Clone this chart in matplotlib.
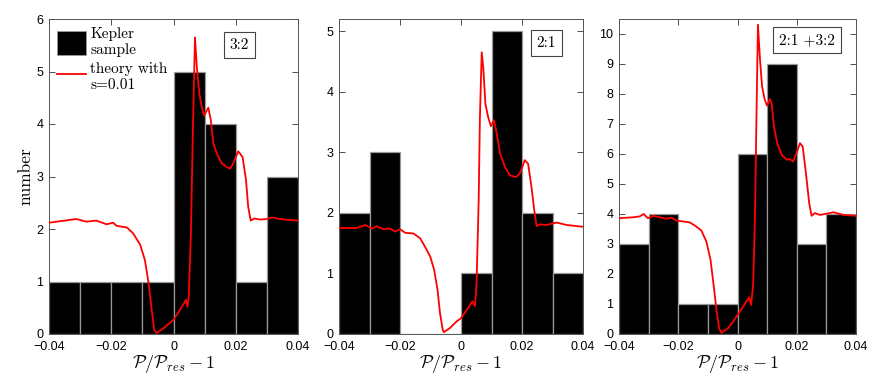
import numpy as np
import matplotlib
matplotlib.use("Agg")
import matplotlib.pyplot as plt
from matplotlib.patches import Patch
from matplotlib.lines import Line2D

plt.rcParams['mathtext.fontset'] = 'cm'
plt.rcParams['font.family'] = ['Liberation Sans', 'DejaVu Sans']
plt.rcParams['axes.unicode_minus'] = True

bin_left = [-0.04, -0.03, -0.02, -0.01, 0.0, 0.01, 0.02, 0.03]
counts_32 = [1, 1, 1, 1, 5, 4, 1, 3]
counts_21 = [2, 3, 0, 0, 1, 5, 2, 1]
counts_all = [3, 4, 1, 1, 6, 9, 3, 4]

theory_x_32 = [-0.04, -0.0312, -0.028, -0.0248, -0.0215, -0.0194, -0.0183, -0.015, -0.013, -0.0107,
               -0.0092, -0.008, -0.007, -0.0062, -0.0054, -0.0032, 0.0, 0.0021, 0.004, 0.0045,
               0.0049, 0.0056, 0.0062, 0.0069, 0.0075, 0.0083, 0.0091, 0.0099, 0.0107, 0.0112,
               0.012, 0.0128, 0.0139, 0.0155, 0.0171, 0.0182, 0.0192, 0.0208, 0.0222, 0.0233,
               0.024, 0.0248, 0.0259, 0.0278, 0.03, 0.0316, 0.0342, 0.0375, 0.04]
theory_y_32 = [2.12, 2.19, 2.14, 2.16, 2.09, 2.12, 2.06, 2.03, 1.92, 1.70,
               1.41, 0.97, 0.46, 0.08, 0.02, 0.11, 0.27, 0.46, 0.65, 0.52,
               0.72, 1.92, 3.82, 5.65, 5.08, 4.58, 4.32, 4.16, 4.26, 4.31,
               4.07, 3.63, 3.44, 3.25, 3.18, 3.15, 3.25, 3.48, 3.37, 2.93,
               2.42, 2.16, 2.20, 2.18, 2.19, 2.22, 2.19, 2.17, 2.16]

theory_x_21 = [-0.04, -0.0341, -0.0314, -0.0292, -0.0276, -0.0254, -0.0232, -0.0216, -0.02, -0.0183,
               -0.0156, -0.0134, -0.0118, -0.0101, -0.0088, -0.0077, -0.0069, -0.006, -0.0056, -0.0036,
               -0.0014, 0.0, 0.0019, 0.0038, 0.0046, 0.0051, 0.0058, 0.0062, 0.0068, 0.0073,
               0.008, 0.0089, 0.0098, 0.0108, 0.0117, 0.0128, 0.0144, 0.016, 0.018, 0.0193,
               0.0209, 0.022, 0.0231, 0.024, 0.0248, 0.0258, 0.028, 0.0313, 0.0346, 0.04]
theory_y_21 = [1.75, 1.75, 1.80, 1.74, 1.78, 1.73, 1.74, 1.69, 1.73, 1.67,
               1.66, 1.58, 1.44, 1.28, 1.06, 0.73, 0.35, 0.07, 0.03, 0.10,
               0.21, 0.26, 0.40, 0.54, 0.46, 0.84, 2.21, 3.58, 4.65, 4.40,
               3.80, 3.58, 3.43, 3.53, 3.31, 2.98, 2.76, 2.62, 2.59, 2.65,
               2.87, 2.81, 2.43, 2.05, 1.78, 1.81, 1.80, 1.84, 1.80, 1.77]

theory_x_all = [-0.04, -0.0353, -0.033, -0.0317, -0.0302, -0.0285, -0.0262, -0.024, -0.0223, -0.0206,
                -0.0183, -0.0161, -0.0139, -0.0122, -0.0105, -0.0091, -0.008, -0.0071, -0.0062, -0.0054,
                -0.0032, -0.0015, 0.0, 0.0019, 0.0039, 0.0046, 0.0053, 0.0059, 0.0064, 0.0069,
                0.0076, 0.0083, 0.0092, 0.01, 0.0109, 0.0115, 0.0123, 0.0134, 0.0149, 0.0166,
                0.0177, 0.0188, 0.0199, 0.0211, 0.022, 0.0231, 0.0242, 0.025, 0.0261, 0.0278,
                0.0312, 0.0323, 0.0357, 0.04]
theory_y_all = [3.86, 3.89, 3.92, 4.00, 3.86, 3.94, 3.89, 3.84, 3.88, 3.78,
                3.75, 3.72, 3.58, 3.45, 3.08, 2.47, 1.58, 0.80, 0.19, 0.04,
                0.19, 0.41, 0.63, 0.91, 1.22, 0.97, 1.69, 3.92, 7.25, 10.31,
                9.14, 8.25, 7.81, 7.61, 7.83, 7.70, 6.92, 6.36, 5.97, 5.81,
                5.83, 5.75, 6.03, 6.36, 6.25, 5.36, 4.36, 3.94, 4.03, 3.97,
                4.03, 4.06, 3.97, 3.94]

labels = ["3:2", "2:1", "2:1 +3:2"]
xticks = [-0.04, -0.02, 0, 0.02, 0.04]
xticklabels = ["\u22120.04", "\u22120.02", "0", "0.02", "0.04"]

W, H = 872, 382
fig = plt.figure(figsize=(W / 100, H / 100), dpi=100)

boxes = [(49, 298), (339, 583), (619, 856)]
top, bottom = 19, 334
ylims = [6, 5.2, 10.5]
yticks = [range(0, 7), range(0, 6), range(0, 11)]
label_pos = [(0.765, 0.917), (0.85, 0.924), (0.795, 0.933)]
data = [(counts_32, theory_x_32, theory_y_32),
        (counts_21, theory_x_21, theory_y_21),
        (counts_all, theory_x_all, theory_y_all)]

serif = 'cmr10'
for i, ((l, r), (cnt, tx, ty)) in enumerate(zip(boxes, data)):
    ax = fig.add_axes([l / W, 1 - bottom / H, (r - l) / W, (bottom - top) / H])
    ax.bar(bin_left, cnt, width=0.01, align='edge', color='black',
           edgecolor='#9a9a9a', linewidth=0.9, zorder=2)
    ax.plot(tx, ty, color='#ff0000', linewidth=1.3, zorder=3)
    ax.set_xlim(-0.04, 0.04)
    ax.set_ylim(0, ylims[i])
    ax.set_xticks(xticks)
    ax.set_xticklabels(xticklabels)
    ax.set_yticks(list(yticks[i]))
    ax.tick_params(direction='in', top=True, right=True, length=4, width=0.6,
                   labelsize=9, color='#333333')
    ax.tick_params(axis='x', pad=5)
    ax.tick_params(axis='y', pad=4)
    for s in ax.spines.values():
        s.set_linewidth(0.7)
        s.set_color('#555555')
    ax.set_xlabel(r'$\mathcal{P}/\mathcal{P}_{res}-1$', fontsize=13, labelpad=0)
    ax.text(label_pos[i][0], label_pos[i][1], labels[i], transform=ax.transAxes,
            ha='center', va='center', fontsize=11, family=serif, zorder=5,
            bbox=dict(boxstyle='square,pad=0.4', fc='white', ec='#444444', lw=0.8))
    if i == 0:
        ax.set_ylabel('number', fontsize=12.5, family=serif, labelpad=2)
        handles = [Patch(facecolor='black', edgecolor='#9a9a9a', linewidth=0.6),
                   Line2D([], [], color='#ff0000', linewidth=1.3)]
        leg = ax.legend(handles, ["Kepler\nsample", "theory with\ns=0.01"],
                        loc='upper left', frameon=False, handlelength=1.85,
                        handleheight=2.1, handletextpad=0.3, labelspacing=0.3,
                        borderaxespad=0.2, borderpad=0.35,
                        prop={'family': serif, 'size': 11})

fig.savefig('out.png', dpi=100)
